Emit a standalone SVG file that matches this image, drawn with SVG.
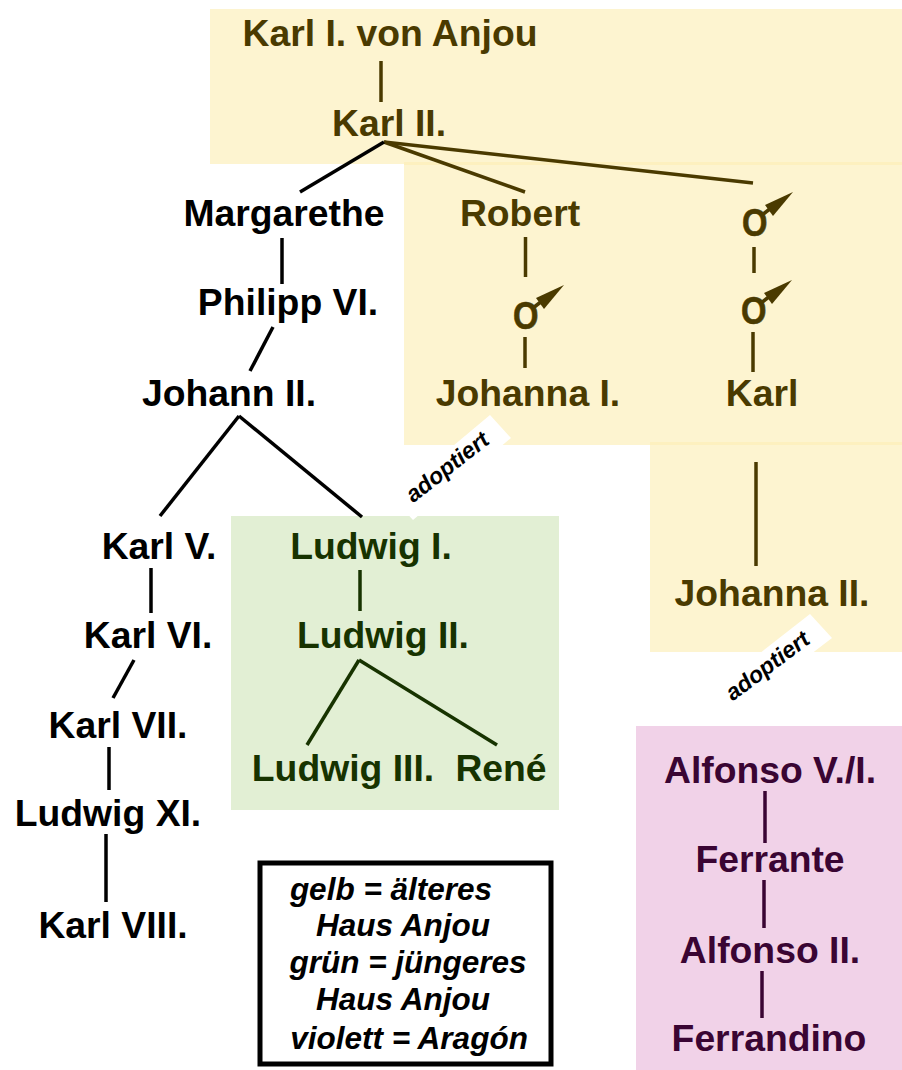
<svg xmlns="http://www.w3.org/2000/svg" width="902" height="1070" viewBox="0 0 902 1070">
<style>
text{font-family:"Liberation Sans",Arial,sans-serif;font-weight:bold;font-size:37.3px;text-anchor:middle}
.k{fill:#000}.y{fill:#4a3a00}.g{fill:#173300}.v{fill:#3a0533}
.i{font-style:italic;font-size:31.5px;fill:#000}
.a{font-style:italic;font-size:23px;fill:#000}
.c line{stroke-width:3.5;fill:none}
.lk line{stroke:#000}.ly line{stroke:#4a3a00}.lg line{stroke:#173300}.lv line{stroke:#3a0533}
.sym{text-anchor:start;font-size:38px;fill:#4a3a00;stroke:#4a3a00;stroke-width:.6}
</style>
<defs><g id="mars"><text class="sym" x="0" y="0" textLength="25.5" lengthAdjust="spacingAndGlyphs">O</text><line x1="20" y1="-21" x2="29" y2="-28" stroke="#4a3a00" stroke-width="3.5"/><path d="M51-44 L23-31 L31-20Z" fill="#4a3a00"/></g></defs>
<rect x="210" y="9" width="692" height="155" fill="#fdf4d0"/>
<rect x="404" y="164" width="498" height="281" fill="#fdf4d0"/>
<rect x="650" y="445" width="252" height="207" fill="#fdf4d0"/>
<rect x="404" y="162" width="498" height="3" fill="#fdf0bf"/>
<rect x="650" y="442" width="252" height="3" fill="#fdf0bf"/>
<rect x="231" y="516" width="328" height="294" fill="#e2efd4"/>
<rect x="636" y="726" width="266" height="344" fill="#f1d2e8"/>
<g id="adopt1"><polygon points="490,415 511,438 413,520 392,497" fill="#fff"/><text class="a" transform="translate(452 473) rotate(-38)">adoptiert</text></g>
<g id="adopt2"><polygon points="810,614 832,638 735,712 713,690" fill="#fff"/><text class="a" transform="translate(772 672) rotate(-37)">adoptiert</text></g>
<g class="c">
<g class="ly"><line x1="381" y1="61" x2="381" y2="102"/><line x1="384" y1="142" x2="525" y2="192"/><line x1="384" y1="142" x2="753" y2="183"/><line x1="525.5" y1="237" x2="525.5" y2="277"/><line x1="525" y1="337" x2="525" y2="368"/><line x1="754" y1="247" x2="754" y2="273"/><line x1="753" y1="332" x2="753" y2="372"/><line x1="756" y1="462" x2="756" y2="566"/></g>
<g class="lk"><line x1="384" y1="142" x2="300" y2="192"/><line x1="282" y1="238" x2="282" y2="284"/><line x1="273" y1="327" x2="250" y2="371"/><line x1="239" y1="416" x2="160" y2="516"/><line x1="239" y1="416" x2="362" y2="517"/><line x1="151" y1="568" x2="151" y2="613"/><line x1="134" y1="660" x2="113" y2="698"/><line x1="109" y1="747" x2="109" y2="790"/><line x1="106" y1="834" x2="106" y2="902"/></g>
<g class="lg"><line x1="360" y1="570" x2="360" y2="611"/><line x1="359" y1="660" x2="307" y2="745"/><line x1="359" y1="660" x2="497" y2="745"/></g>
<g class="lv"><line x1="765" y1="791" x2="765" y2="843"/><line x1="764" y1="880" x2="764" y2="928"/><line x1="762" y1="971" x2="762" y2="1018"/></g>
</g>
<g id="n1"><text class="y" x="390" y="46">Karl I. von Anjou</text></g>
<g id="n2"><text class="y" x="389" y="136">Karl II.</text></g>
<g id="n3"><text class="k" x="284" y="226">Margarethe</text></g>
<g id="n4"><text class="y" x="520" y="226">Robert</text></g>
<g id="n5"><use href="#mars" x="742" y="236"/></g>
<g id="n6"><text class="k" x="288" y="315">Philipp VI.</text></g>
<g id="n7"><use href="#mars" x="513" y="329"/></g>
<g id="n8"><use href="#mars" x="741" y="324"/></g>
<g id="n9"><text class="k" x="229" y="406">Johann II.</text></g>
<g id="n10"><text class="y" x="528" y="406">Johanna I.</text></g>
<g id="n11"><text class="y" x="762" y="406">Karl</text></g>
<g id="n12"><text class="k" x="159" y="559">Karl V.</text></g>
<g id="n13"><text class="g" x="371" y="559">Ludwig I.</text></g>
<g id="n14"><text class="y" x="772" y="606">Johanna II.</text></g>
<g id="n15"><text class="k" x="148" y="648">Karl VI.</text></g>
<g id="n16"><text class="g" x="383" y="648">Ludwig II.</text></g>
<g id="n17"><text class="k" x="118" y="738">Karl VII.</text></g>
<g id="n18"><text class="g" x="343" y="781">Ludwig III.</text></g>
<g id="n19"><text class="g" x="501" y="781">René</text></g>
<g id="n20"><text class="v" x="770" y="783">Alfonso V./I.</text></g>
<g id="n21"><text class="k" x="108" y="826">Ludwig XI.</text></g>
<g id="n22"><text class="v" x="770" y="872">Ferrante</text></g>
<g id="n23"><text class="k" x="113" y="938">Karl VIII.</text></g>
<g id="n24"><text class="v" x="770" y="963">Alfonso II.</text></g>
<g id="n25"><text class="v" x="769" y="1051">Ferrandino</text></g>
<g id="legend"><rect x="260" y="863" width="291" height="201" fill="#fff" stroke="#000" stroke-width="5"/>
<text class="i" x="391" y="900">gelb = älteres</text>
<text class="i" x="403" y="936">Haus Anjou</text>
<text class="i" x="408" y="973">grün = jüngeres</text>
<text class="i" x="403" y="1010">Haus Anjou</text>
<text class="i" x="409" y="1049">violett = Aragón</text></g>
</svg>
